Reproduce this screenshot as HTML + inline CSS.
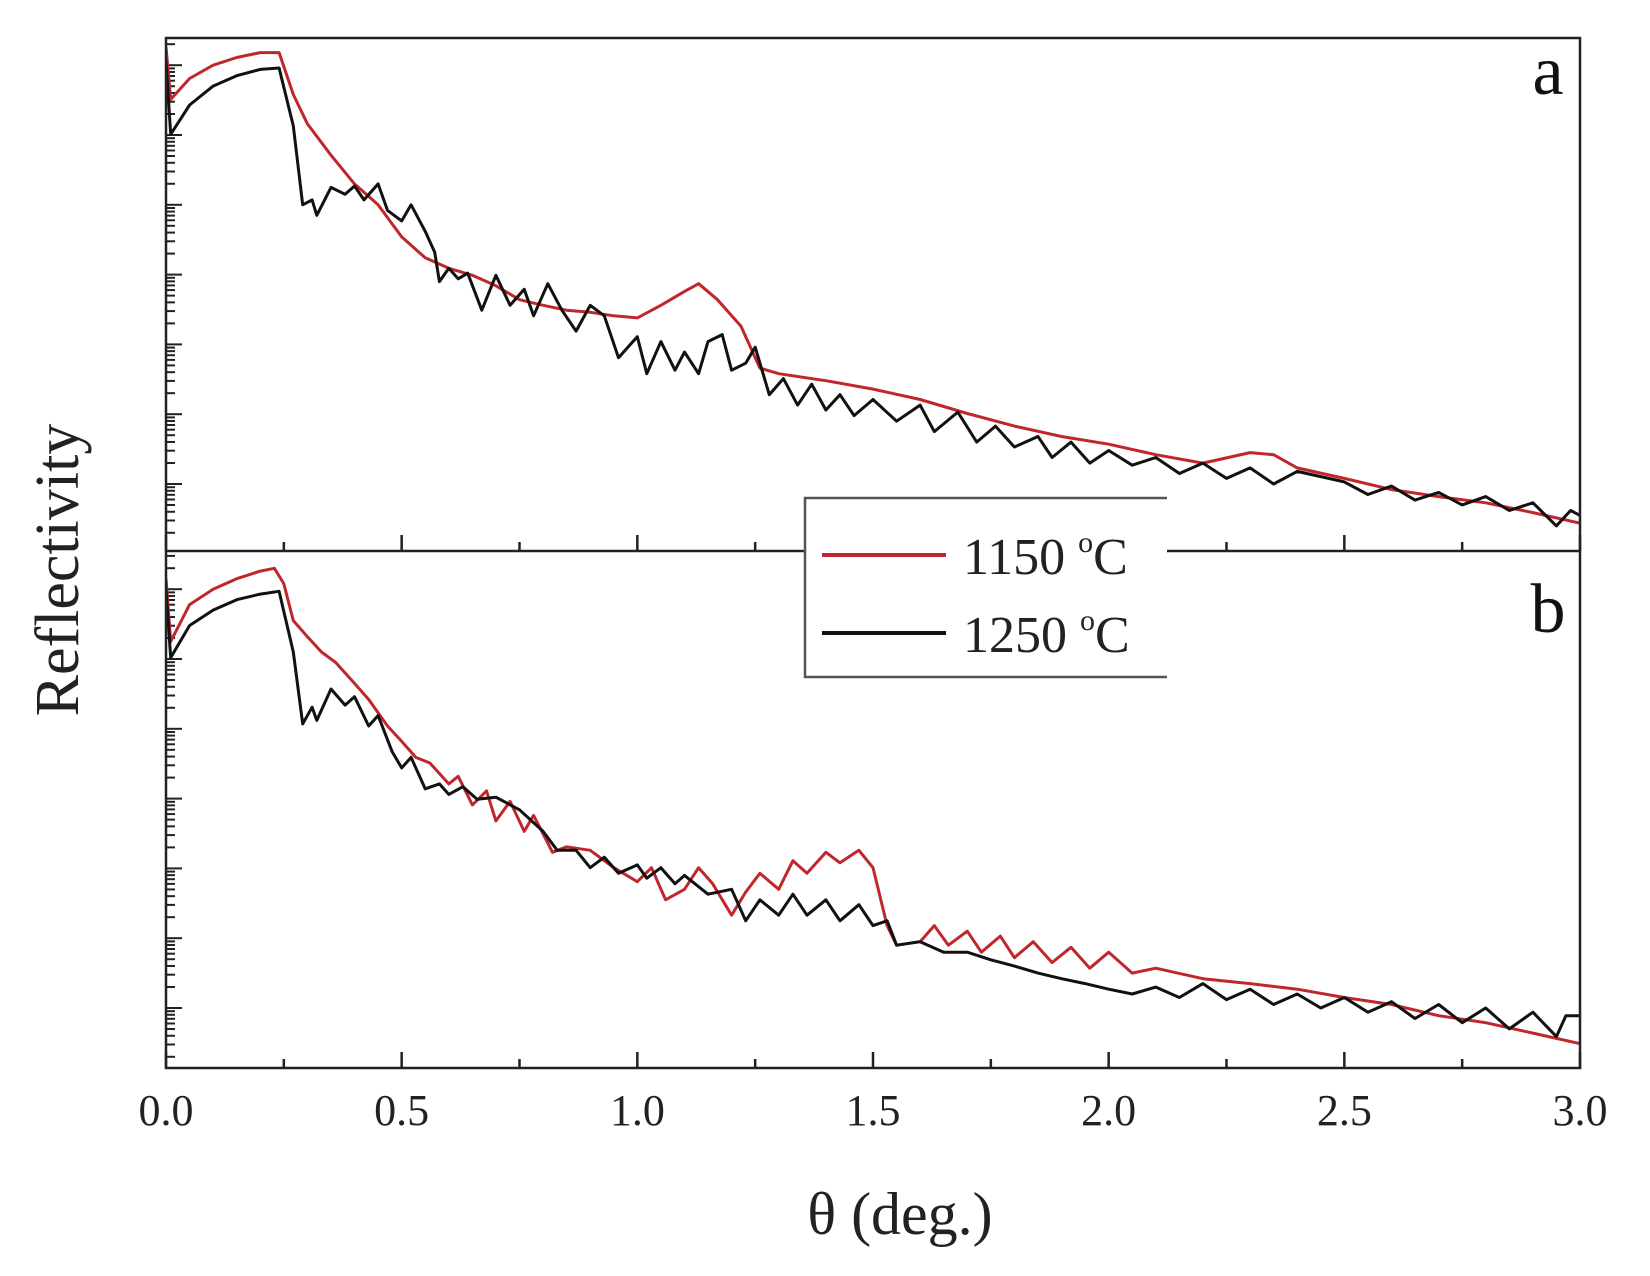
<!DOCTYPE html>
<html><head><meta charset="utf-8"><style>
html,body{margin:0;padding:0;background:#fff;}
svg{display:block;font-family:"Liberation Serif",serif;}
</style></head><body>
<svg id="chart" width="1650" height="1276" viewBox="0 0 1650 1276">
<defs>
<clipPath id="clipA"><rect x="166" y="38" width="1414" height="513"/></clipPath>
<clipPath id="clipB"><rect x="166" y="551" width="1414" height="517"/></clipPath>
</defs>
<g id="axes"></g>
<g id="series"></g>
<rect x="166" y="38" width="1414" height="1030" fill="none" stroke="#222" stroke-width="2.5"/>
<line x1="166" y1="551" x2="1580" y2="551" stroke="#222" stroke-width="2.5"/>
<g id="ticklabels" font-size="44" fill="#222" text-anchor="middle"></g>
<text x="900" y="1234" font-size="60" text-anchor="middle" fill="#222">θ (deg.)</text>
<text x="0" y="0" font-size="62" text-anchor="middle" fill="#222" transform="translate(78,570) rotate(-90)">Reflectivity</text>
<text x="1548" y="94" font-size="70" text-anchor="middle" fill="#111">a</text>
<text x="1548" y="632" font-size="70" text-anchor="middle" fill="#111">b</text>
<g>
<rect x="805" y="498" width="362" height="179" fill="#fff"/>
<polyline points="1167,498 805,498 805,677 1167,677" fill="none" stroke="#555" stroke-width="2.5"/>
<line x1="822" y1="555" x2="946" y2="555" stroke="#c0272d" stroke-width="4"/>
<text x="963" y="574" font-size="52" fill="#222">1150 <tspan font-size="30" dy="-22">o</tspan><tspan dy="22">C</tspan></text>
<line x1="822" y1="633" x2="946" y2="633" stroke="#111" stroke-width="4"/>
<text x="963" y="652" font-size="52" fill="#222">1250 <tspan font-size="30" dy="-22">o</tspan><tspan dy="22">C</tspan></text>
</g>
</svg>
<script>
const xTicks = [0.0, 0.5, 1.0, 1.5, 2.0, 2.5, 3.0];
const xTickLabels = ["0.0","0.5","1.0","1.5","2.0","2.5","3.0"];
const decades = [-7, -6, -5, -4, -3, -2, -1];

const aRedX = [0,0.01,0.05,0.1,0.15,0.2,0.24,0.27,0.3,0.35,0.4,0.45,0.5,0.55,0.6,0.65,0.7,0.75,0.8,0.85,0.9,0.95,1.0,1.05,1.1,1.13,1.17,1.22,1.26,1.3,1.4,1.5,1.6,1.7,1.8,1.9,2.0,2.1,2.2,2.3,2.35,2.4,2.5,2.6,2.7,2.8,2.9,3.0];
const aRedY = [-0.74,-1.49,-1.19,-1.0,-0.89,-0.82,-0.82,-1.42,-1.84,-2.29,-2.70,-3.0,-3.46,-3.76,-3.91,-4.01,-4.16,-4.36,-4.44,-4.51,-4.54,-4.59,-4.62,-4.44,-4.24,-4.13,-4.36,-4.74,-5.34,-5.42,-5.52,-5.64,-5.79,-5.99,-6.17,-6.32,-6.43,-6.58,-6.70,-6.55,-6.58,-6.77,-6.92,-7.08,-7.18,-7.27,-7.41,-7.56];

const aBlkX = [0,0.01,0.05,0.1,0.15,0.2,0.24,0.27,0.29,0.31,0.32,0.35,0.38,0.4,0.42,0.45,0.47,0.5,0.52,0.55,0.57,0.58,0.6,0.62,0.64,0.67,0.7,0.73,0.76,0.78,0.81,0.84,0.87,0.9,0.93,0.96,1.0,1.02,1.05,1.08,1.1,1.13,1.15,1.18,1.2,1.23,1.25,1.28,1.31,1.34,1.37,1.4,1.43,1.46,1.5,1.55,1.6,1.63,1.68,1.72,1.76,1.8,1.85,1.88,1.92,1.96,2.0,2.05,2.1,2.15,2.2,2.25,2.3,2.35,2.4,2.5,2.55,2.6,2.65,2.7,2.75,2.8,2.85,2.9,2.95,2.98,3.0];
const aBlkY = [-0.94,-1.99,-1.57,-1.30,-1.15,-1.06,-1.04,-1.87,-3.00,-2.93,-3.15,-2.75,-2.85,-2.73,-2.93,-2.70,-3.08,-3.23,-3.00,-3.38,-3.68,-4.10,-3.91,-4.06,-3.98,-4.51,-4.01,-4.44,-4.21,-4.59,-4.13,-4.51,-4.81,-4.44,-4.59,-5.19,-4.89,-5.42,-4.96,-5.37,-5.11,-5.42,-4.96,-4.86,-5.37,-5.27,-5.04,-5.72,-5.49,-5.87,-5.57,-5.94,-5.72,-6.02,-5.79,-6.10,-5.87,-6.25,-5.97,-6.40,-6.17,-6.47,-6.32,-6.62,-6.40,-6.70,-6.52,-6.73,-6.62,-6.85,-6.70,-6.92,-6.77,-7.00,-6.82,-6.97,-7.15,-7.03,-7.23,-7.12,-7.30,-7.18,-7.38,-7.27,-7.60,-7.38,-7.45];

const bRedX = [0,0.01,0.05,0.1,0.15,0.2,0.23,0.25,0.27,0.3,0.33,0.36,0.4,0.43,0.47,0.5,0.53,0.56,0.6,0.62,0.65,0.68,0.7,0.73,0.76,0.78,0.82,0.85,0.9,0.95,1.0,1.03,1.06,1.1,1.13,1.16,1.2,1.23,1.26,1.3,1.33,1.36,1.4,1.43,1.47,1.5,1.53,1.55,1.6,1.63,1.66,1.7,1.73,1.77,1.8,1.84,1.88,1.92,1.96,2.0,2.05,2.1,2.2,2.3,2.4,2.5,2.6,2.7,2.8,2.9,3.0];
const bRedY = [-0.85,-1.75,-1.22,-1.00,-0.85,-0.74,-0.70,-0.92,-1.45,-1.68,-1.90,-2.05,-2.35,-2.58,-2.96,-3.18,-3.41,-3.49,-3.79,-3.68,-4.09,-3.89,-4.32,-4.04,-4.47,-4.24,-4.77,-4.69,-4.74,-4.99,-5.19,-4.99,-5.45,-5.30,-4.99,-5.22,-5.67,-5.34,-5.07,-5.30,-4.89,-5.07,-4.77,-4.92,-4.74,-4.99,-5.82,-6.10,-6.05,-5.82,-6.10,-5.90,-6.20,-5.97,-6.28,-6.05,-6.35,-6.13,-6.43,-6.20,-6.50,-6.43,-6.58,-6.65,-6.73,-6.85,-6.95,-7.11,-7.21,-7.36,-7.51];

const bBlkX = [0,0.01,0.05,0.1,0.15,0.2,0.24,0.27,0.29,0.31,0.32,0.35,0.38,0.4,0.43,0.45,0.48,0.5,0.52,0.55,0.58,0.6,0.63,0.66,0.7,0.75,0.8,0.83,0.87,0.9,0.93,0.96,1.0,1.02,1.05,1.08,1.1,1.15,1.2,1.23,1.26,1.3,1.33,1.36,1.4,1.43,1.47,1.5,1.53,1.55,1.6,1.65,1.7,1.75,1.8,1.85,1.9,1.95,2.0,2.05,2.1,2.15,2.2,2.25,2.3,2.35,2.4,2.45,2.5,2.55,2.6,2.65,2.7,2.75,2.8,2.85,2.9,2.95,2.97,3.0];
const bBlkY = [-1.00,-1.98,-1.52,-1.30,-1.15,-1.07,-1.03,-1.90,-2.93,-2.69,-2.88,-2.43,-2.66,-2.54,-2.96,-2.81,-3.33,-3.56,-3.41,-3.86,-3.79,-3.94,-3.83,-4.01,-3.98,-4.16,-4.47,-4.74,-4.74,-4.99,-4.84,-5.07,-4.95,-5.14,-4.99,-5.22,-5.10,-5.37,-5.30,-5.75,-5.45,-5.67,-5.37,-5.67,-5.45,-5.75,-5.52,-5.82,-5.75,-6.10,-6.05,-6.20,-6.20,-6.31,-6.40,-6.50,-6.58,-6.65,-6.73,-6.80,-6.70,-6.85,-6.65,-6.88,-6.73,-6.95,-6.80,-7.00,-6.85,-7.06,-6.91,-7.15,-6.95,-7.21,-7.00,-7.30,-7.06,-7.41,-7.11,-7.11];

const NS = "http://www.w3.org/2000/svg";
const X0 = 166, X1 = 1580;
function xScale(v){ return X0 + (v - 0) / (3 - 0) * (X1 - X0); }
function yScaleA(d){ return 484 - (d + 7) * 69.8; }
function yScaleB(d){ return 1008 - (d + 7) * 69.8; }

const axes = document.getElementById('axes');
const series = document.getElementById('series');
const tl = document.getElementById('ticklabels');

function mk(tag, attrs, parent){
  const e = document.createElementNS(NS, tag);
  for (const k in attrs) e.setAttribute(k, attrs[k]);
  parent.appendChild(e);
  return e;
}

// x ticks for both panels
[[551, 'a'], [1068, 'b']].forEach(([yb, p]) => {
  for (let i = 0; i <= 12; i++) {
    const v = i * 0.25;
    const major = i % 2 === 0;
    const t = mk('line', {x1: xScale(v), x2: xScale(v), y1: yb, y2: yb - (major ? 16 : 9), stroke: '#222', 'stroke-width': 2.5}, axes);
    
    
  }
});
// y log ticks
[[yScaleA, 38, 551, 'a'], [yScaleB, 551, 1068, 'b']].forEach(([ys, top, bot, p]) => {
  for (let d = -9; d <= 0; d++) {
    for (let m = 1; m <= 9; m++) {
      const y = ys(d + Math.log10(m));
      if (y < top + 2 || y > bot - 2) continue;
      const t = mk('line', {x1: X0, x2: X0 + (m === 1 ? 16 : 9), y1: y, y2: y, stroke: '#222', 'stroke-width': 2}, axes);
      
      
    }
  }
});
xTicks.forEach((v, i) => {
  const t = mk('text', {x: xScale(v), y: 1125}, tl);
  t.textContent = xTickLabels[i];
  
  
});

function drawLine(xs, ys, scale, color, clip, name){
  const pts = xs.map((x, i) => xScale(x).toFixed(1) + ',' + scale(ys[i]).toFixed(1)).join(' ');
  const pl = mk('polyline', {points: pts, fill: 'none', stroke: color, 'stroke-width': 3, 'stroke-linejoin': 'round', 'clip-path': 'url(#' + clip + ')'}, series);
  
  
}
drawLine(aRedX, aRedY, yScaleA, '#c0272d', 'clipA', 'series-a-1150');
drawLine(aBlkX, aBlkY, yScaleA, '#111', 'clipA', 'series-a-1250');
drawLine(bRedX, bRedY, yScaleB, '#c0272d', 'clipB', 'series-b-1150');
drawLine(bBlkX, bBlkY, yScaleB, '#111', 'clipB', 'series-b-1250');
</script>
</body></html>
